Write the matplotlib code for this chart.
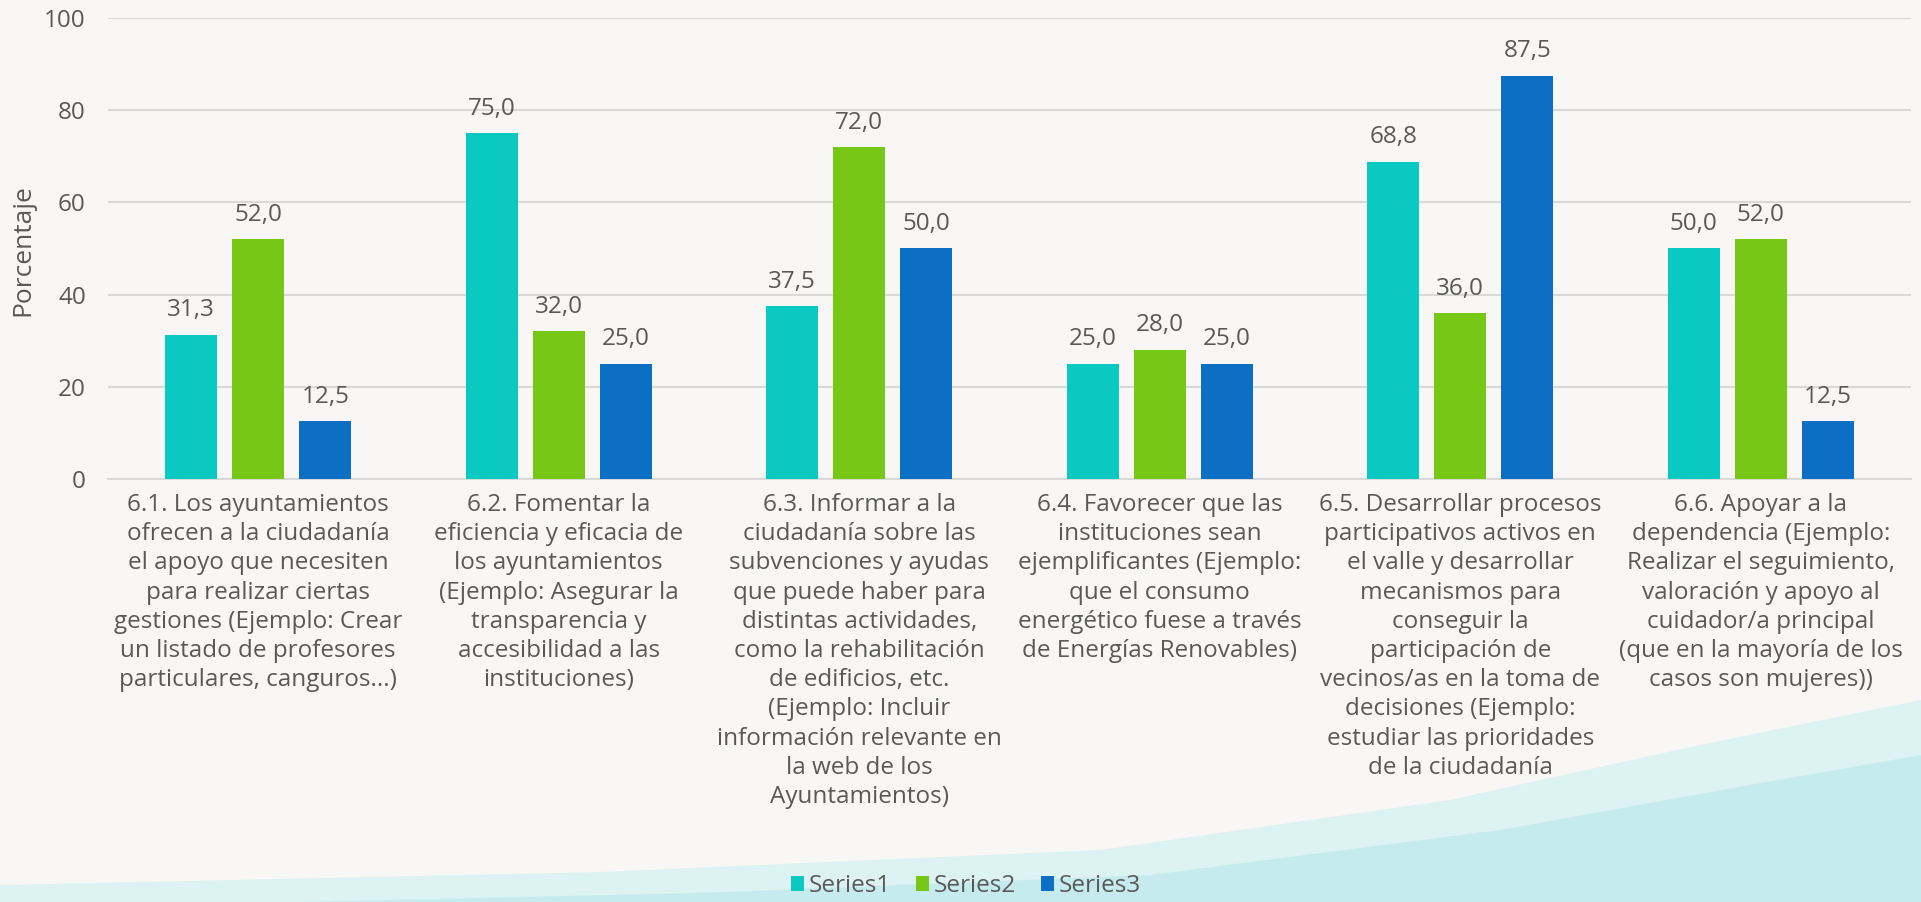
import matplotlib
matplotlib.use("Agg")
import matplotlib.pyplot as plt
from matplotlib.patches import Polygon, Patch
import numpy as np

plt.rcParams['font.family'] = ['Open Sans', 'DejaVu Sans']

categories = [
    "6.1. Los ayuntamientos\nofrecen a la ciudadanía\nel apoyo que necesiten\npara realizar ciertas\ngestiones (Ejemplo: Crear\nun listado de profesores\nparticulares, canguros...)",
    "6.2. Fomentar la\neficiencia y eficacia de\nlos ayuntamientos\n(Ejemplo: Asegurar la\ntransparencia y\naccesibilidad a las\ninstituciones)",
    "6.3. Informar a la\nciudadanía sobre las\nsubvenciones y ayudas\nque puede haber para\ndistintas actividades,\ncomo la rehabilitación\nde edificios, etc.\n(Ejemplo: Incluir\ninformación relevante en\nla web de los\nAyuntamientos)",
    "6.4. Favorecer que las\ninstituciones sean\nejemplificantes (Ejemplo:\nque el consumo\nenergético fuese a través\nde Energías Renovables)",
    "6.5. Desarrollar procesos\nparticipativos activos en\nel valle y desarrollar\nmecanismos para\nconseguir la\nparticipación de\nvecinos/as en la toma de\ndecisiones (Ejemplo:\nestudiar las prioridades\nde la ciudadanía",
    "6.6. Apoyar a la\ndependencia (Ejemplo:\nRealizar el seguimiento,\nvaloración y apoyo al\ncuidador/a principal\n(que en la mayoría de los\ncasos son mujeres))",
]
series_names = ["Series1", "Series2", "Series3"]
series1 = [31.3, 75.0, 37.5, 25.0, 68.8, 50.0]
series2 = [52.0, 32.0, 72.0, 28.0, 36.0, 52.0]
series3 = [12.5, 25.0, 50.0, 25.0, 87.5, 12.5]
y_ticks = [0, 20, 40, 60, 80, 100]
y_label = "Porcentaje"

colors = ["#09C9C1", "#77C716", "#0D6FC4"]
text_color = "#595959"
grid_color = "#D9D9D9"
bg_color = "#F8F7F5"
FS = 17.5

W, H = 1921, 902
fig = plt.figure(figsize=(W / 100, H / 100), dpi=100)
fig.patch.set_facecolor(bg_color)

# decorative watercolor-like band at the bottom (background)
bg = fig.add_axes([0, 0, 1, 1], zorder=-10)
bg.set_xlim(0, W)
bg.set_ylim(H, 0)
bg.axis('off')
bg.add_patch(Polygon([[0, H], [0, 885], [600, 872], [1100, 850], [1450, 800],
                      [1700, 745], [1921, 700], [1921, H]],
                     closed=True, facecolor="#D6F1F3", edgecolor='none', alpha=0.8))
bg.add_patch(Polygon([[300, H], [700, 893], [1150, 875], [1500, 830],
                      [1750, 785], [1921, 755], [1921, H]],
                     closed=True, facecolor="#B5E6EA", edgecolor='none', alpha=0.55))

ax = fig.add_axes([108 / W, 1 - 479 / H, (1911 - 108) / W, (479 - 18) / H])
ax.set_facecolor('none')

x = np.arange(len(categories))
width = 0.173
offset = 0.223
all_series = [series1, series2, series3]
for k, (vals, col, name) in enumerate(zip(all_series, colors, series_names)):
    xs = x + (k - 1) * offset
    ax.bar(xs, vals, width=width, color=col, label=name, zorder=3)
    for xi, v in zip(xs, vals):
        ax.annotate(f"{v:.1f}".replace('.', ','), (xi, v), xytext=(0, 9),
                    textcoords='offset points', ha='center', va='bottom',
                    fontsize=FS, color=text_color)

ax.set_xlim(-0.5, len(categories) - 0.5)
ax.set_ylim(0, 100)
ax.set_yticks(y_ticks)
ax.set_yticklabels([str(t) for t in y_ticks], fontsize=FS, color=text_color)
ax.set_xticks(x)
ax.set_xticklabels(categories, fontsize=FS, color=text_color, linespacing=1.29,
                   va='top', ha='center')
ax.tick_params(axis='both', length=0)
ax.tick_params(axis='y', pad=16)
ax.tick_params(axis='x', pad=10)
ax.grid(axis='y', color=grid_color, linewidth=1.5, zorder=0)
for s in ['top', 'right', 'left']:
    ax.spines[s].set_visible(False)
ax.spines['bottom'].set_color(grid_color)
ax.spines['bottom'].set_linewidth(1.5)

fig.text(23 / W, 1 - 250 / H, y_label, rotation=90, ha='center', va='center',
         fontsize=19, color=text_color)

handles = [Patch(facecolor=c, edgecolor='none') for c in colors]
fig.legend(handles, series_names, loc='center', bbox_to_anchor=(966 / W, 1 - 886 / H),
           ncol=3, frameon=False, fontsize=FS, labelcolor=text_color,
           handlelength=0.55, handleheight=0.55, handletextpad=0.2, columnspacing=1.0,
           borderpad=0.1)

fig.savefig("out.png", dpi=100, facecolor=fig.get_facecolor())
